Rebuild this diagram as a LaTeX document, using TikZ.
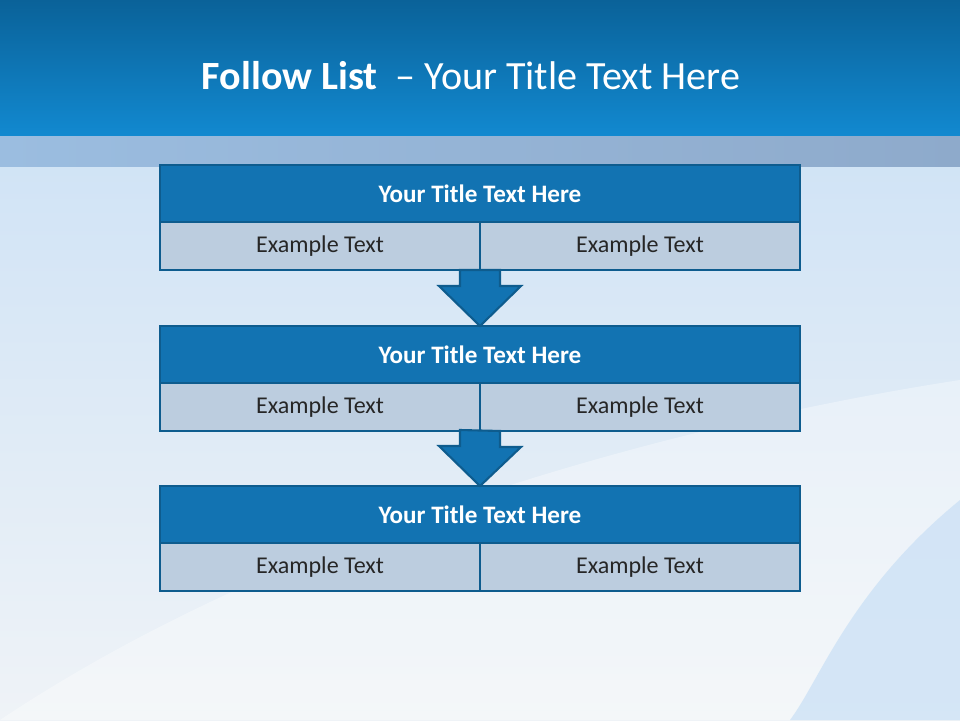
\documentclass[tikz,border=0pt]{standalone}
\usepackage{fontspec}
\setmainfont{Carlito}
\usetikzlibrary{positioning,calc}
\definecolor{barblue}{HTML}{1273B2}
\definecolor{edgeblue}{HTML}{0E5C8E}
\definecolor{cellgray}{HTML}{BCCDDF}
\definecolor{skytop}{HTML}{C8DFF5}
\definecolor{skybot}{HTML}{EFF3F7}
\begin{document}
\begin{tikzpicture}[x=0.02cm, y=-0.02cm,
  ttl/.style={draw=edgeblue, line width=1.2pt, fill=barblue, text=white, font=\fontsize{14.3}{17}\selectfont\bfseries, minimum width=12.8cm, minimum height=1.14cm, inner sep=0pt, outer sep=0pt},
  cell/.style={draw=edgeblue, line width=1.2pt, fill=cellgray, text=black!85, font=\fontsize{13.7}{16}\selectfont, minimum width=6.4cm, minimum height=0.96cm, inner sep=0pt, outer sep=0pt},
  blk/.style={draw=edgeblue, line width=1.2pt, fill=barblue, line join=miter}]
 \useasboundingbox (0,0) rectangle (960,720);
 \shade[top color=skytop, bottom color=skybot] (0,0) rectangle (960,720);
 \fill[white, opacity=.35] (0,720) .. controls (300,520) and (700,420) .. (960,380) -- (960,720) -- cycle;
 \fill[skytop, opacity=.7] (960,500) .. controls (850,590) and (820,680) .. (790,720) -- (960,720) -- cycle;
 \shade[top color={rgb,255:red,10;green,98;blue,153}, bottom color={rgb,255:red,18;green,137;blue,208}] (0,0) rectangle (960,136);
 \shade[left color={rgb,255:red,155;green,189;blue,224}, right color={rgb,255:red,142;green,170;blue,203}] (0,136) rectangle (960,166);
 \node[white, font=\fontsize{22.8}{27}\selectfont] (head) at (471,76) {\textbf{Follow List}\ \ – Your Title Text Here};
 % three steps
 \foreach \i/\y in {1/193.5, 2/354.5, 3/514.5} {
  \node[ttl] (t\i) at (480,\y) {Your Title Text Here};
  \node[cell, anchor=north east] (a\i) at (t\i.south) {Example Text};
  \node[cell, anchor=north west] (b\i) at (t\i.south) {Example Text};
 }
 \foreach \i/\j in {1/2, 2/3} {
  \draw[blk] ($(a\i.south east)+(20,0)$) -- ++(0,16) -- ++(21,0) -- (t\j.north) -- ++(-41,-40) -- ++(21,0) -- ++(0,-16) -- cycle;
 }
\end{tikzpicture}
\end{document}
